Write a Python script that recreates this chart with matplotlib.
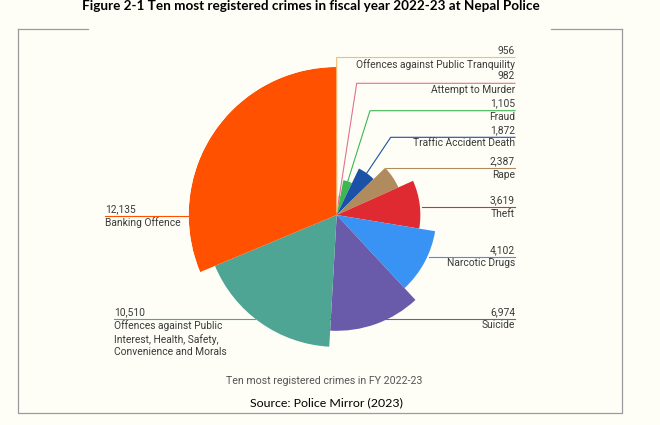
import numpy as np
import matplotlib.pyplot as plt

crimes = ["Offences against Public Tranquility", "Attempt to Murder", "Fraud",
          "Traffic Accident Death", "Rape", "Theft", "Narcotic Drugs", "Suicide",
          "Offences against Public\nInterest, Health, Safety,\nConvenience and Morals",
          "Banking Offence"]
cases = [956, 982, 1105, 1872, 2387, 3619, 4102, 6974, 10510, 12135]
# angular share of each slice in % (clockwise from 12 o'clock)
share = [1.5, 1.5, 4.1, 5.6, 5.6, 9.3, 10.5, 12.8, 17.8, 31.3]
colors = ["#F2BC72", "#E4708E", "#3DB653", "#1B51A6", "#B08B5E", "#E02A31",
          "#3893F4", "#6A5BAA", "#4EA593", "#FF5100"]

bg = "#FEFEF7"
txt = "#3a3a3a"
W, H = 660, 425
fig = plt.figure(figsize=(W / 100, H / 100), dpi=100)
fig.patch.set_facecolor(bg)

# rose chart: angle from share, radius from rank of the case count
cx, cy, R = 336.7, 215, 148
ax = fig.add_axes([(cx - R) / W, (H - cy - R) / H, 2 * R / W, 2 * R / H], projection="polar")
ax.set_theta_zero_location("N")
ax.set_theta_direction(-1)
widths = np.array(share) / 100 * 2 * np.pi
starts = np.concatenate([[0], np.cumsum(widths)[:-1]])
rank = np.argsort(np.argsort(cases)) + 1
r0 = 0.8
ax.bar(starts, rank - r0, width=widths, bottom=r0, align="edge", color=colors, linewidth=0)
ax.set_ylim(r0, 10)
ax.axis("off")

# overlay in pixel coords for labels, leaders and frame
ov = fig.add_axes([0, 0, 1, 1])
ov.set_xlim(0, W)
ov.set_ylim(H, 0)
ov.axis("off")


def anchor(i):
    px, py = ax.transData.transform((starts[i] + widths[i] / 2, rank[i]))
    return px, H - py


fs = 7.4
x_right = 515
line_y = [57.5, 83.3, 110.7, 137.3, 168.3, 207.3, 257.3, 319.3]
elbow_x = [cx, 356.7, 370, 390.7]
line_x0 = [386, 422, 429, 330]
for i in range(8):
    y = line_y[i]
    if i < 4:
        ax_, ay_ = anchor(i)
        ov.plot([ax_, elbow_x[i], x_right], [ay_, y, y], color=colors[i], lw=0.8)
    else:
        ov.plot([line_x0[i - 4], x_right], [y, y], color=colors[i], lw=0.8)
    ov.text(x_right, y - 2.0, f"{cases[i]:,}", ha="right", va="bottom", fontsize=fs,
            color=txt, family="Roboto")
    ov.text(x_right, y + 1.2, crimes[i], ha="right", va="top", fontsize=fs,
            color=txt, family="Roboto")

left_y = [319.3, 216]
left_x = [114, 105]
left_end = [255, 188.7]
for k, i in enumerate([8, 9]):
    y = left_y[k]
    ov.plot([left_x[k], left_end[k]], [y, y], color=colors[i], lw=0.8)
    ov.text(left_x[k], y - 2.0, f"{cases[i]:,}", ha="left", va="bottom", fontsize=fs,
            color=txt, family="Roboto")
    ov.text(left_x[k], y + 1.2, crimes[i], ha="left", va="top", fontsize=fs,
            color=txt, family="Roboto", linespacing=1.25)

ov.text(324, 381.5, "Ten most registered crimes in FY 2022-23", ha="center", va="center",
        fontsize=7.7, color="#555555", family="Roboto")
ov.text(326.7, 403, "Source: Police Mirror (2023)", ha="center", va="center",
        fontsize=8.9, color="black", family="Lato")
ov.text(311, 6, "Figure 2-1 Ten most registered crimes in fiscal year 2022-23 at Nepal Police",
        ha="center", va="center", fontsize=9.7, fontweight="bold", color="black", family="Lato")

# frame around the figure
fc = "#9c9c9c"
ov.plot([18, 88], [29, 29], color=fc, lw=0.9)
ov.plot([551, 622], [29, 29], color=fc, lw=0.9)
ov.plot([18, 18, 622, 622], [29, 413, 413, 29], color=fc, lw=0.9)

fig.savefig("out.png", dpi=100, facecolor=bg)
